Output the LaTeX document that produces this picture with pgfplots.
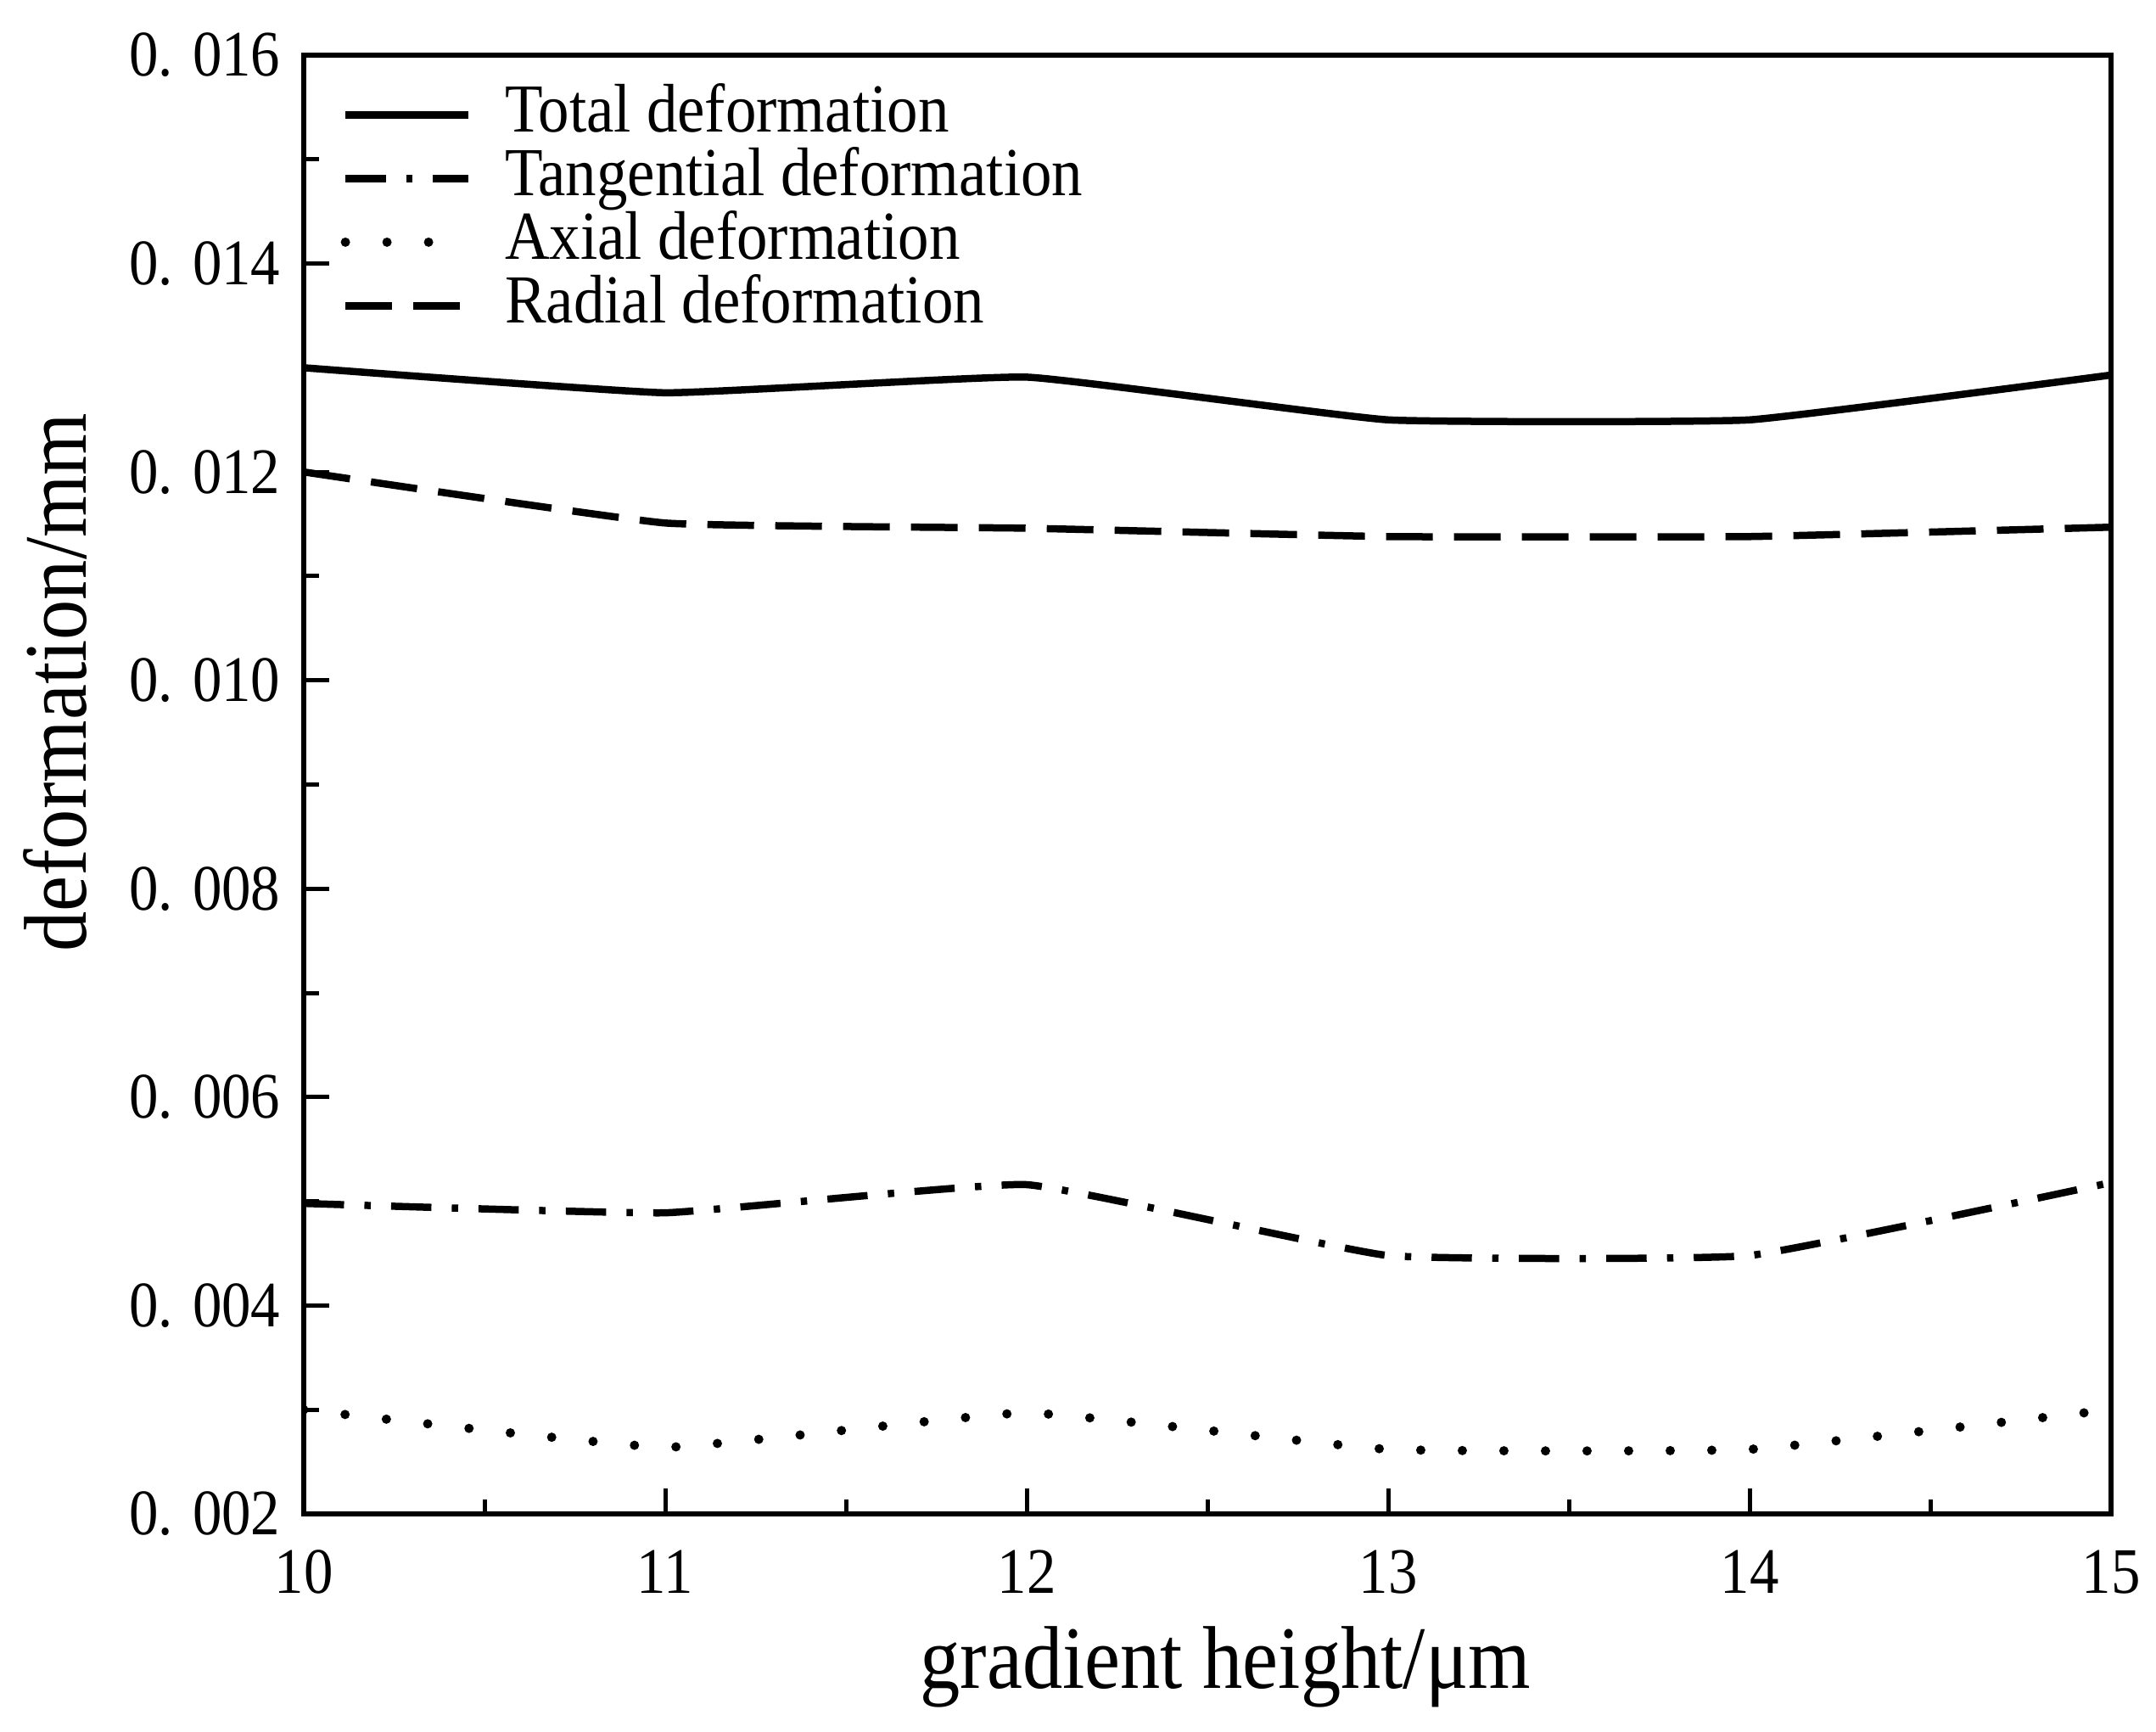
\documentclass[border=0pt]{standalone}
\usepackage{fontspec}
\setmainfont{Liberation Serif}[FakeStretch=0.9]
\usepackage{pgfplots}
\pgfplotsset{compat=1.18}
\begin{document}
\begin{tikzpicture}
\path (0,0) rectangle (508.2pt,408pt);
\begin{axis}[
  at={(71.6pt,51.2pt)}, anchor=south west,
  scale only axis, width=426pt, height=343.8pt,
  xmin=10, xmax=15, ymin=0.002, ymax=0.016,
  xtick={10,11,12,13,14,15},
  xticklabels={10,11,12,13,14,15},
  ytick={0.002,0.004,0.006,0.008,0.010,0.012,0.014,0.016},
  yticklabels={0. 002,0. 004,0. 006,0. 008,0. 010,0. 012,0. 014,0. 016},
  minor x tick num=1, minor y tick num=1,
  scaled y ticks=false,
  tick pos=left, tick align=inside,
  major tick length=6pt, minor tick length=3.5pt,
  tick style={black, line width=1pt},
  axis line style={line width=1.2pt},
  ticklabel style={font=\fontsize{15.3}{17}\selectfont},
  xticklabel style={yshift=-5pt},
  yticklabel style={xshift=-2pt},
  xlabel={gradient height/μm},
  ylabel={deformation/mm},
  xlabel style={font=\fontsize{21}{24}\selectfont, at={(axis description cs:0.51,-0.1198)}, anchor=base},
  ylabel style={font=\fontsize{21}{24}\selectfont, at={(axis description cs:-0.1376,0.57)}, anchor=center},
  legend style={at={(axis description cs:0.02,0.98)}, anchor=north west, draw=none, fill=none,
    inner sep=0pt, row sep=1pt,
    nodes={inner sep=0pt, text height=11pt, text depth=3pt, font=\fontsize{16.2}{18}\selectfont},
    /tikz/every odd column/.append style={column sep=7.5pt}},
  legend cell align=left,
  legend image code/.code={\draw[#1] (0pt,0pt) -- (29pt,0pt);},
  every axis plot/.append style={black, no marks, line width=1.7pt, smooth, tension=0.2},
]
\addplot[solid] coordinates {(10,0.01300) (11,0.01276) (12,0.01291) (13,0.01250) (14,0.01250) (15,0.01293)};
\addlegendentry{Total deformation}
\addplot[dash pattern=on 9.5pt off 4.8pt on 1.5pt off 4.8pt] coordinates {(10,0.00498) (11,0.00489) (12,0.00516) (13,0.00448) (14,0.00448) (15,0.00518)};
\addlegendentry{Tangential deformation}
\addplot[line width=2.2pt, line cap=round, dash pattern=on 0pt off 9.8pt] coordinates {(10,0.00300) (11,0.00264) (12,0.00297) (13,0.00262) (14,0.00262) (15,0.00300)};
\addlegendentry{Axial deformation}
\addplot[dash pattern=on 11pt off 5pt] coordinates {(10,0.01200) (11,0.01151) (12,0.01146) (13,0.01138) (14,0.01138) (15,0.01147)};
\addlegendentry{Radial deformation}
\end{axis}
\end{tikzpicture}
\end{document}
